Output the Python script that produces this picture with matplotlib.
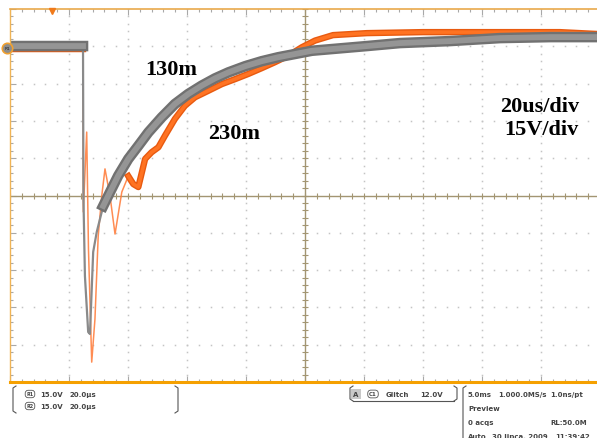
import numpy as np
import matplotlib.pyplot as plt
from matplotlib.lines import Line2D

# scope traces, time in us (20 us/div), voltage in V (15 V/div)
t_130m = [0, 24.75, 24.9, 25.4, 26.5, 27.1, 28.2, 29.4, 31.6, 33.3, 36.7, 40.1, 43.5, 46.9,
          51.4, 55.9, 60.4, 65.0, 69.5, 74.0, 79.7, 85.3, 90.9, 96.6, 102.3, 121.0, 132.2,
          149.2, 166.1, 183.1, 200]
v_130m = [60.1, 60.1, -1.4, -32.4, -54.9, -55.7, -22.7, -14.7, -4.2, -0.1, 8.0, 14.7, 20.0, 25.4,
          31.4, 36.8, 40.8, 44.2, 47.1, 49.5, 52.0, 54.0, 55.6, 56.9, 58.2, 60.1, 61.3,
          62.1, 63.3, 63.7, 63.7]

t_230m = [0, 24.75, 24.85, 26.0, 26.6, 27.7, 28.8, 29.9, 31.1, 32.2, 33.9, 35.6, 37.9, 40.1,
          41.8, 43.5, 45.8, 48.0, 50.3, 52.5, 55.9, 59.3, 62.7, 67.2, 71.8, 76.3, 80.8,
          85.3, 89.8, 94.3, 98.9, 103.4, 109.5, 121.0, 140.0, 166.1, 186.4, 200]
v_230m = [58.9, 58.9, -6.6, 25.5, -21.5, -67.0, -49.7, -16.3, -0.2, 10.7, -0.2, -15.5, 1.4, 7.8,
          4.6, 3.4, 14.7, 17.4, 19.4, 24.0, 30.8, 36.1, 39.5, 42.1, 44.8, 46.8, 48.9,
          51.2, 53.6, 56.2, 59.6, 62.3, 64.5, 65.3, 65.7, 65.7, 65.7, 64.9]

labels = ["130m", "230m", "20us/div", "15V/div"]
ch_rows = [("R1", "15.0V", "20.0\u00b5s"), ("R2", "15.0V", "20.0\u00b5s")]
trigger = ("A", "C1", "Glitch", "12.0V")
acq_rows = [("5.0ms", "1.000.0MS/s", "1.0ns/pt"), ("Preview", "", ""),
            ("0 acqs", "", "RL:50.0M"), ("Auto", "30 lipca, 2009", "11:39:42")]

W, H = 597, 439
fig = plt.figure(figsize=(W / 100, H / 100), dpi=100)
ax = fig.add_axes([10 / W, (H - 383) / H, 590 / W, 373 / H])
ax.set_xlim(0, 200)
ax.set_ylim(-75, 75)


def fx(px):
    return px / W


def fy(py):
    return 1 - py / H


# graticule
minor_x = np.arange(0, 201, 4)
minor_y = np.arange(-75, 76, 3)
for gx in range(20, 200, 20):
    if gx != 100:
        ax.plot([gx] * len(minor_y), minor_y, ls='none', marker='s', ms=1.1, mew=0, color='#c4c4c4')
for gy in range(-60, 61, 15):
    if gy != 0:
        ax.plot(minor_x, [gy] * len(minor_x), ls='none', marker='s', ms=1.1, mew=0, color='#c4c4c4')
ax.axhline(0, color='#a39572', lw=1.0)
ax.axvline(100, color='#a39572', lw=1.0)
ax.plot(minor_x, np.zeros(len(minor_x)), ls='none', marker='|', ms=4, mew=0.8, color='#a39572')
ax.plot(np.full(len(minor_y), 100), minor_y, ls='none', marker='_', ms=5, mew=0.8, color='#a39572')

ax.set_xticks(range(0, 201, 20))
ax.set_xticks(minor_x, minor=True)
ax.set_yticks(range(-75, 76, 15))
ax.set_yticks(minor_y, minor=True)
ax.tick_params(which='both', direction='in', top=True, bottom=True, left=True, right=False,
               labelbottom=False, labelleft=False, color='#a8a8a8', width=0.8)
ax.tick_params(which='major', length=4.5)
ax.tick_params(which='minor', length=2.5)
for s in ax.spines.values():
    s.set_zorder(5)
ax.spines['right'].set_visible(False)
ax.spines['top'].set_color('#e9a94c')
ax.spines['top'].set_linewidth(1.2)
ax.spines['left'].set_color('#f0b455')
ax.spines['left'].set_linewidth(1.0)
ax.spines['bottom'].set_color('#f5a000')
ax.spines['bottom'].set_linewidth(2.2)

# traces
t1, v1 = np.array(t_230m), np.array(v_230m)
thick1 = np.where((t1 > 24.8) & (t1 < 40.1), np.nan, v1)
ax.plot(t1, v1, color='#ff8040', lw=1.1, alpha=0.9, solid_joinstyle='round')
ax.plot(t1, thick1, color='#e85a10', lw=4.6, solid_joinstyle='round')
ax.plot(t1, thick1, color='#ff7322', lw=2.6, solid_joinstyle='round')

t2, v2 = np.array(t_130m), np.array(v_130m)
thick2 = np.where((t2 > 24.8) & (t2 < 31.6), np.nan, v2)
ax.plot(t2, v2, color='#8a8a8a', lw=1.6, solid_joinstyle='round')
ax.plot(t2, thick2, color='#717171', lw=7.6, solid_joinstyle='round')
ax.plot(t2, thick2, color='#959595', lw=4.2, solid_joinstyle='round')

# markers on the frame
ax.plot([14.2], [74.2], marker='v', ms=5, color='#f07a1a', clip_on=False, zorder=6)
ax.plot([-1.0], [59.3], marker='o', ms=7.5, mfc='#8c8c8c', mec='#f0a030', mew=1.2,
        clip_on=False, zorder=6)
ax.text(-1.0, 59.3, "R1", fontsize=3.2, color='#222', ha='center', va='center', zorder=7)

serif = dict(family='Liberation Serif', fontweight='bold', fontsize=16, color='black')
fig.text(fx(145), fy(75), labels[0], **serif)
fig.text(fx(208), fy(139), labels[1], **serif)
fig.text(fx(540), fy(112), labels[2], ha='center', **serif)
fig.text(fx(541), fy(135), labels[3], ha='center', **serif)


# status bar
def bracket(x, y0, y1, d):
    fig.add_artist(Line2D([fx(x + d), fx(x), fx(x), fx(x + d)], [fy(y0), fy(y0 + 2), fy(y1 - 2), fy(y1)],
                          color='#555555', lw=0.8))


small = dict(fontsize=5, fontweight='bold', color='#444444', va='center')
box = dict(boxstyle='round,pad=0.25,rounding_size=0.6', fc='white', ec='#555555', lw=0.6)

bracket(13, 387, 414, 3)
bracket(178, 387, 414, -3)
for i, (ch, volts, tb) in enumerate(ch_rows):
    y = 395 + i * 12
    fig.text(fx(30), fy(y), ch, ha='center', bbox=box, **dict(small, fontsize=3.5))
    fig.text(fx(40), fy(y), volts, **small)
    fig.text(fx(70), fy(y), tb, **small)

bracket(350, 387, 402, 3)
bracket(457, 387, 402, -3)
fig.add_artist(Line2D([fx(353), fx(454)], [fy(402), fy(402)], color='#555555', lw=0.8))
fig.text(fx(356), fy(395), trigger[0], ha='center',
         bbox=dict(boxstyle='square,pad=0.3', fc='#c8c8c8', ec='none'), **small)
fig.text(fx(373), fy(395), trigger[1], ha='center', bbox=box, **dict(small, fontsize=4))
fig.text(fx(386), fy(395), trigger[2], **small)
fig.text(fx(420), fy(395), trigger[3], **small)

bracket(463, 387, 445, 3)
for i, (a, b, c) in enumerate(acq_rows):
    y = 395 + i * 14
    fig.text(fx(468), fy(y), a, **small)
    fig.text(fx(492 if i == 3 else 498), fy(y), b, **small)
    fig.text(fx(550 if i != 3 else 555), fy(y), c, **small)

fig.savefig("out.png", dpi=100, facecolor='white')
